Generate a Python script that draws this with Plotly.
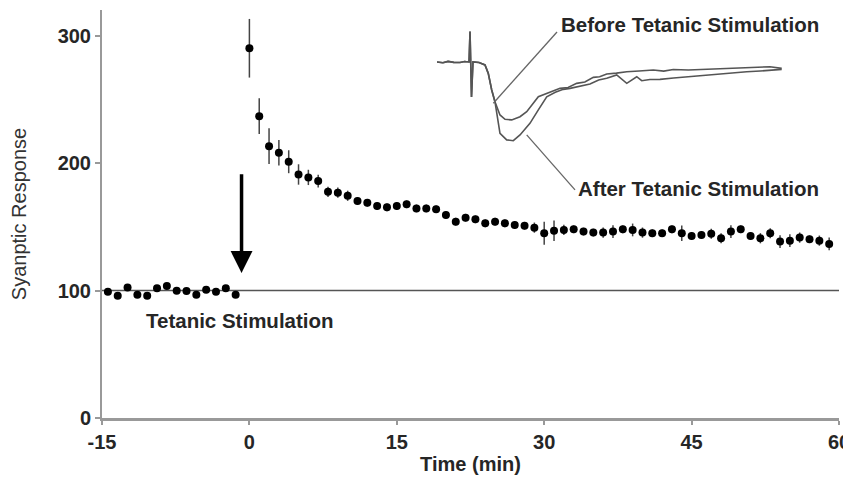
import plotly.graph_objects as go

# ---------------- data ----------------
baseline_time = [-14.4, -13.4, -12.4, -11.4, -10.4, -9.4, -8.4, -7.4, -6.4, -5.4, -4.4, -3.4, -2.4, -1.4]
baseline_resp = [99.1, 95.8, 102.3, 96.6, 95.8, 101.8, 103.6, 99.9, 99.7, 96.6, 100.5, 99.1, 101.8, 96.6]
baseline_err = [2, 2, 2, 2, 2, 2, 2, 2, 2, 2, 2, 2, 2, 2]

post_time = list(range(0, 60))
post_resp = [290, 236.7, 213.2, 208, 201, 191, 188.7, 185.8, 177.4, 176.7,
             174.3, 170.2, 168.8, 166.2, 165.2, 166.2, 167.6, 164.4, 164.4, 163.7,
             159.2, 154, 157.1, 155.8, 152.7, 154, 152.7, 151.4, 150.8, 149.3,
             144.9, 146.9, 147.5, 148, 146.2, 145.4, 145.4, 146.2, 148, 147.5,
             145.4, 144.9, 144.9, 148, 144.9, 142.8, 143.6, 144.5, 141, 146.2,
             148, 142.8, 141, 144.9, 138.4, 139.1, 141.5, 140.2, 139.1, 136.5]
post_err = [23, 14, 14, 10, 9, 8, 6, 5, 4, 4,
            4, 3, 3, 3, 3, 3, 3, 3, 3, 3,
            3, 3, 3, 3, 3, 3, 3, 3, 3, 4,
            9, 8, 4, 3, 3, 3, 4, 5, 3, 5,
            4, 3, 3, 3, 6, 3, 3, 4, 4, 5,
            3, 3, 4, 4, 5, 5, 4, 3, 4, 5]

x_ticks = [-15, 0, 15, 30, 45, 60]
y_ticks = [0, 100, 200, 300]

# inset waveforms (ms, mV)
wave_common_t = [0.0, 0.6, 1.12, 1.7, 2.33, 2.8, 3.25, 3.35, 3.50, 3.65, 4.26, 4.87, 5.20, 5.55, 5.88]
wave_common_v = [0.0, -0.04, 0.03, -0.02, -0.03, 0.02, 0.0, 1.52, -1.75, 0.0, -0.03, -0.15, -0.57, -1.40, -1.99]

before_t = [6.39, 6.90, 7.58, 8.42, 9.10, 10.28, 11.13, 11.8, 12.48, 13.3, 14.17, 15.0, 15.86, 16.5, 17.22,
            18.2, 19.25, 20.5, 21.94, 23.0, 23.97, 25.5, 27.02, 28.7, 30.40, 32.1, 33.2, 33.78, 34.97]
before_v = [-2.65, -2.87, -2.90, -2.74, -2.49, -1.74, -1.57, -1.45, -1.32, -1.28, -1.07, -1.0, -0.77, -0.74, -0.60,
            -0.56, -0.49, -0.45, -0.40, -0.46, -0.38, -0.40, -0.37, -0.33, -0.32, -0.30, -0.26, -0.24, -0.32]

after_t = [6.39, 7.07, 7.74, 8.42, 9.43, 10.28, 11.13, 12.0, 12.81, 13.5, 14.17, 14.9, 15.52, 16.4, 17.22, 18.23,
           19.25, 20.26, 20.77, 21.6, 22.62, 24.0, 25.33, 26.7, 28.03, 29.7, 31.42, 32.8, 34.12, 34.97]
after_v = [-3.57, -3.90, -3.94, -3.65, -3.07, -2.40, -1.74, -1.52, -1.37, -1.32, -1.24, -1.16, -1.10, -0.90, -0.82, -0.65,
           -1.07, -0.74, -0.94, -0.88, -0.87, -0.80, -0.74, -0.70, -0.65, -0.58, -0.49, -0.45, -0.40, -0.37]

# ---------------- figure ----------------
FONT = "Liberation Sans"
TXT = "#262626"
OFF = 8  # page body margin
W, H = 851 - OFF, 483 - 2 * OFF
PLOT_BOTTOM = 418.3  # screen px of y=0
ML, MR, MT = 102 - OFF, 12, 10 - OFF
MB = (H + OFF) - PLOT_BOTTOM
ANN = 20.5


def px_x(p):
    return (p - OFF - ML) / (W - ML - MR)


def px_y(p):
    return (PLOT_BOTTOM - p) / (PLOT_BOTTOM - (MT + OFF))


def bold(s):
    return "<b>" + s + "</b>"


fig = go.Figure()

fig.add_trace(go.Scatter(
    x=baseline_time, y=baseline_resp, mode="markers",
    marker=dict(color="black", size=8),
    error_y=dict(type="data", array=baseline_err, color="#444", thickness=1.5, width=0),
    showlegend=False))

fig.add_trace(go.Scatter(
    x=post_time, y=post_resp, mode="markers",
    marker=dict(color="black", size=8),
    error_y=dict(type="data", array=post_err, color="#444", thickness=1.5, width=0),
    showlegend=False))

# inset traces
fig.add_trace(go.Scatter(
    x=wave_common_t + before_t, y=wave_common_v + before_v, mode="lines",
    line=dict(color="#555", width=1.6), xaxis="x2", yaxis="y2", showlegend=False))
fig.add_trace(go.Scatter(
    x=wave_common_t + after_t, y=wave_common_v + after_v, mode="lines",
    line=dict(color="#555", width=1.6), xaxis="x2", yaxis="y2", showlegend=False))

shapes = [
    dict(type="line", xref="x", yref="y", x0=-15, x1=60, y0=100, y1=100,
         line=dict(color="#555", width=1.5), layer="below"),
    dict(type="line", xref="paper", yref="paper", x0=px_x(493.3), y0=px_y(103.3),
         x1=px_x(557), y1=px_y(32), line=dict(color="#666", width=1.3)),
    dict(type="line", xref="paper", yref="paper", x0=px_x(526.7), y0=px_y(135),
         x1=px_x(575), y1=px_y(190), line=dict(color="#666", width=1.3)),
]

annotations = [
    dict(x=-0.8, y=113.8, ax=-0.8, ay=192.3, xref="x", yref="y", axref="x", ayref="y",
         showarrow=True, arrowhead=2, arrowwidth=3.5, arrowsize=1.25, arrowcolor="black", text=""),
    dict(x=-0.96, y=76.2, xref="x", yref="y", text=bold("Tetanic Stimulation"), showarrow=False,
         font=dict(family=FONT, size=ANN, color=TXT)),
    dict(x=px_x(559), y=px_y(25), xref="paper", yref="paper", text=bold("Before Tetanic Stimulation"),
         showarrow=False, xanchor="left", yanchor="middle", font=dict(family=FONT, size=ANN, color=TXT)),
    dict(x=px_x(576), y=px_y(189), xref="paper", yref="paper", text=bold("After Tetanic Stimulation"),
         showarrow=False, xanchor="left", yanchor="middle", font=dict(family=FONT, size=ANN, color=TXT)),
]

fig.update_layout(
    width=W, height=H,
    margin=dict(l=ML, r=MR, t=MT, b=MB),
    paper_bgcolor="white", plot_bgcolor="white",
    font=dict(family=FONT, size=20, color=TXT),
    xaxis=dict(range=[-15, 60], tickvals=x_ticks, ticktext=[bold(str(v)) for v in x_ticks],
               showgrid=False, zeroline=False, showline=True, linecolor="#999", linewidth=2.5,
               ticks="outside", ticklen=4, tickcolor="#999", tickwidth=1.5, automargin=False,
               tickfont=dict(family=FONT, size=20, color=TXT),
               title=dict(text=bold("Time (min)"), font=dict(family=FONT, size=20, color=TXT), standoff=8)),
    yaxis=dict(range=[0, 320], tickvals=y_ticks, ticktext=[bold(str(v)) for v in y_ticks],
               showgrid=False, zeroline=False,
               showline=True, linecolor="#999", linewidth=2, automargin=False,
               ticks="outside", ticklen=5, tickcolor="#999", tickwidth=1.5,
               tickfont=dict(family=FONT, size=20, color=TXT),
               title=dict(text="Syanptic Response", font=dict(family=FONT, size=20, color="#333"), standoff=26)),
    xaxis2=dict(domain=[px_x(437), px_x(782)], range=[0, 35], anchor="y2", visible=False),
    yaxis2=dict(domain=[px_y(145), px_y(25)], range=[-4.15, 1.85], anchor="x2", visible=False),
    shapes=shapes,
    annotations=annotations,
)

fig.write_html("out.html")
